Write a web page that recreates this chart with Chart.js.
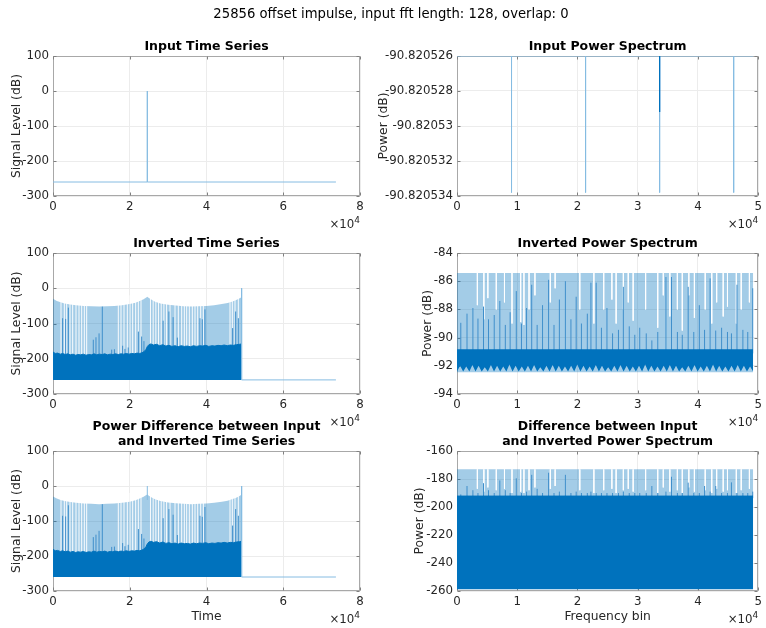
<!DOCTYPE html>
<html>
<head>
<meta charset="utf-8">
<script src="https://cdn.jsdelivr.net/npm/chart.js@4.4.1/dist/chart.umd.min.js"></script>
<style>
  body { margin: 0; background: #fff; }
  #fig { position: relative; width: 766px; height: 628px; overflow: hidden; background: #fff; }
  #fig canvas { position: absolute; left: 0; top: 0; }
  #suptitle { position: absolute; left: 0; top: 6px; width: 782px; line-height: 16px; text-align: center;
              font-family: "DejaVu Sans"; font-size: 13.2px; color: #000; z-index: 10; white-space: nowrap; }
</style>
</head>
<body>
<div id="fig">
  <canvas id="inTime" width="766" height="628"></canvas>
  <canvas id="inSpec" width="766" height="628"></canvas>
  <canvas id="invTime" width="766" height="628"></canvas>
  <canvas id="invSpec" width="766" height="628"></canvas>
  <canvas id="diffTime" width="766" height="628"></canvas>
  <canvas id="diffSpec" width="766" height="628"></canvas>
  <div id="suptitle">25856 offset impulse, input fft length: 128, overlap: 0</div>
</div>
<script>
// ---- axes ----
const timeTicks = [0, 20000, 40000, 60000, 80000];
const timeTickLabels = ['0', '2', '4', '6', '8'];
const freqTicks = [0, 10000, 20000, 30000, 40000, 50000];
const freqTickLabels = ['0', '1', '2', '3', '4', '5'];
const levelTicks = [-300, -200, -100, 0, 100];
const levelTickLabels = ['-300', '-200', '-100', '0', '100'];

// ---- input time series: one impulse on the -260 dB floor ----
const inTimeX = [0, 24576, 24576, 24576, 73728];
const inTimeY = [-260, -260, 0, -260, -260];

// ---- input power spectrum: flat level with four narrow notches ----
const inSpecTicks = [-90.820534, -90.820532, -90.82053, -90.820528, -90.820526];
const inSpecTickLabels = ['-90.820534', '-90.820532', '-90.82053', '-90.820528', '-90.820526'];
const inSpecLevel = -90.820526;
const inSpecEnd = 49152;
const inSpecNotchX = [9050, 21340, 33630, 45920];
const inSpecNotchY = [-90.8205338, -90.8205338, -90.8205338, -90.8205338];
const inSpecDarkX = [33630];
const inSpecDarkY = [-90.8205292];

// ---- inverted / difference time series ----
const tsEnd = 49152;
const tsTailEnd = 73728;
const envX = [0, 1000, 2000, 3000, 4500, 6000, 8000, 10000, 12000, 14000, 16000, 18000, 20000, 21500, 22600, 23600, 24300, 24576,
  24900, 25600, 26600, 28000, 30000, 32000, 34000, 36000, 38000, 40000, 42000, 44000, 45500, 46600, 47600, 48400, 49000, 49152];
const envY = [-30, -36, -40, -43, -46, -48, -50, -51, -52, -51, -50, -48, -45, -41, -36, -31, -26, -24,
  -27, -32, -38, -43, -47, -49, -51, -52, -51, -50, -48, -45, -42, -38, -34, -30, -26, -24];
const floorX = [0, 600, 1200, 1900, 2500, 3200, 3800, 4500, 5200, 5900, 6500, 7200, 7900, 8600, 9300, 10000, 10700, 11400, 12100, 12800,
  13500, 14200, 14900, 15600, 16300, 17000, 17700, 18400, 19100, 19800, 20500, 21200, 21900, 22600, 23200, 23700, 24200, 24600, 25000, 25500,
  26200, 27000, 27800, 28600, 29400, 30200, 31000, 31800, 32600, 33400, 34200, 35000, 35800, 36600, 37400, 38200, 39000, 39800, 40600, 41400,
  42200, 43000, 43800, 44600, 45400, 46200, 47000, 47800, 48600, 49152];
const floorY = [-181, -185, -184, -187, -185, -188, -186, -189, -187, -190, -188, -189, -187, -190, -188, -189, -186, -189, -187, -188,
  -186, -189, -187, -188, -186, -188, -186, -187, -185, -187, -185, -186, -184, -185, -183, -180, -174, -165, -160, -158,
  -161, -159, -163, -160, -164, -162, -165, -163, -166, -163, -165, -164, -166, -163, -165, -163, -164, -162, -165, -163,
  -164, -162, -163, -161, -163, -161, -162, -160, -159, -158];
const tsGapX = [2085, 2955, 3560, 4430, 5125, 5994, 6776, 7470, 8165, 8774, 17023, 17720, 18502, 19370, 20066, 20760, 21543, 22238, 22935,
  25400, 26100, 26800, 27500, 28200, 28900, 29600, 30500, 31793, 32662, 33530, 34225, 34833, 35528, 36310, 37005, 37700, 38480, 39176,
  46126, 46734, 47430, 48300];
const tsSpikeX = [2500, 3300, 4000, 10500, 11200, 12000, 12850, 15300, 16000, 18150, 18750, 19600, 22250, 23100, 23700,
  28700, 30200, 31300, 32400, 38300, 38900, 39600, 46800, 47600, 48300];
const tsSpikeY = [-85, -87, -55, -146, -139, -128, -52, -174, -173, -163, -172, -168, -123, -137, -150,
  -92, -66, -82, -140, -85, -88, -60, -113, -66, -85];
const diffPeakX = [24576];
const diffPeakY = [0];

// ---- inverted power spectrum ----
const ipsTicks = [-94, -92, -90, -88, -86, -84];
const ipsTickLabels = ['-94', '-92', '-90', '-88', '-86', '-84'];
const specEnd = 49152;
const ipsTop = -85.42;
const ipsFloor = -92.46;
const ipsBandTop = -90.82;
const ipsToothBase = -92.40;
const ipsTeethX = [512, 1536, 2560, 3584, 4608, 5632, 6656, 7680, 8704, 9728, 10752, 11776, 12800, 13824, 14848, 15872,
  16896, 17920, 18944, 19968, 20992, 22016, 23040, 24064, 25088, 26112, 27136, 28160, 29184, 30208, 31232, 32256,
  33280, 34304, 35328, 36352, 37376, 38400, 39424, 40448, 41472, 42496, 43520, 44544, 45568, 46592, 47616, 48640];
const ipsTeethY = [-92.0, -92.05, -91.95, -92.0, -92.1, -91.95, -92.0, -92.05, -91.9, -92.0, -92.05, -92.0, -91.95, -92.1, -92.0, -91.95,
  -92.0, -92.05, -92.0, -91.9, -92.0, -92.05, -91.95, -92.0, -92.1, -92.0, -91.95, -92.0, -92.05, -92.0, -91.9, -92.0,
  -92.05, -92.0, -91.95, -92.0, -92.1, -92.0, -91.95, -92.05, -92.0, -91.9, -92.0, -92.05, -92.0, -91.95, -92.0, -92.05];
const specSpikeX = [630, 1660, 2640, 3480, 4400, 5230, 6180, 7110, 8020, 8820, 9840, 10700, 11550, 12400, 13300, 14200, 15200, 16100,
  16990, 17990, 18910, 19780, 20650, 21630, 22230, 23100, 23970, 24890, 25820, 26800, 27610, 28590, 29510, 30330, 31410, 32340,
  33320, 34680, 35600, 36580, 37390, 38370, 39300, 40220, 41090, 42010, 42940, 43920, 44890, 45550, 46470, 47450, 48260, 49080];
const ipsSpikeY = [-88.95, -88.3, -87.9, -88.65, -87.8, -88.7, -88.4, -87.4, -89.1, -88.2, -86.7, -89.0, -87.9, -86.25, -89.1, -87.7, -85.9, -89.1,
  -87.3, -86.0, -88.7, -87.1, -89.0, -88.3, -86.1, -86.1, -89.3, -87.9, -89.7, -89.45, -86.4, -89.2, -89.8, -89.3, -89.7, -90.2,
  -89.6, -85.7, -85.7, -89.6, -89.8, -86.4, -89.6, -87.7, -89.45, -85.8, -89.5, -89.3, -89.6, -89.7, -86.25, -89.45, -89.6, -86.5];
const specGapX = [3380, 4460, 5120, 6522, 7881, 9131, 10570, 11110, 11957, 12935, 15490, 16290, 20381, 22719, 24350, 25708, 26414, 27610,
  28425, 29240, 31305, 33316, 34240, 35327, 36577, 37392, 38479, 39403, 41197, 42284, 43099, 44186, 44893, 46360, 47175, 48534];
const ipsGapY = [-87.7, -88.7, -87.2, -88.0, -87.5, -89.0, -88.9, -89.1, -88.0, -87.0, -87.5, -86.5, -88.0, -89.0, -88.0, -87.3, -89.0, -88.0,
  -87.5, -88.8, -88.0, -89.3, -87.0, -88.5, -88.0, -89.5, -87.0, -88.6, -88.0, -89.0, -87.5, -88.5, -87.8, -89.0, -88.0, -87.5];

// ---- difference power spectrum ----
const dpsTicks = [-260, -240, -220, -200, -180, -160];
const dpsTickLabels = ['-260', '-240', '-220', '-200', '-180', '-160'];
const dpsTop = -173.1;
const dpsLightFloor = -192;
const dpsBandTop = -191.7;
const dpsFloor = -258.8;
const dpsSpikeY = [-191, -185, -188, -190, -183, -188, -190, -181, -188, -190, -179.5, -190, -189, -177, -187, -190, -175.5, -190,
  -189, -177, -190, -189, -190, -190, -189, -190, -190, -190, -190, -190, -189, -190, -190, -190, -190, -185,
  -190, -189, -178.4, -190, -190, -182.6, -190, -190, -185, -189, -185, -190, -190, -182.4, -190, -190, -190, -189];
const dpsGapY = [-187, -189, -186, -188, -187, -190, -189, -190, -188, -186, -187, -185, -188, -190, -188, -187, -190, -188,
  -187, -189, -188, -190, -186, -189, -188, -190, -186, -189, -188, -190, -187, -189, -188, -190, -188, -187];

// ---- colours ----
const blue = '#0072bd';
const lightFill = 'rgba(0,114,189,0.36)';
const thinLine = '#86bce2';
const spikeBlue = '#3f8fcb';
const gapWhite = 'rgba(255,255,255,0.92)';
const none = 'rgba(0,0,0,0)';
const textColor = '#262626';
const FONT = 'DejaVu Sans';

function pts(xs, ys) {
  return xs.map((x, i) => ({x: x, y: ys[i]}));
}
// vertical strokes from y0 to ys[i] at each xs[i], broken apart with nulls
function strokes(xs, y0, ys) {
  const out = [];
  xs.forEach((x, i) => out.push({x: x, y: y0}, {x: x, y: ys[i]}, {x: x, y: null}));
  return out;
}
function area(data, color, base, order, edge) {
  return {data: data, backgroundColor: color, borderColor: edge || none, borderWidth: edge ? 1 : 0.01,
    fill: {value: base}, pointRadius: 0, tension: 0, order: order};
}
function line(data, color, order) {
  return {data: data, borderColor: color, borderWidth: 1, fill: false, pointRadius: 0, tension: 0,
    spanGaps: false, order: order};
}

// axes box, inward ticks, titles and the x10^4 multiplier
const decor = {
  id: 'decor',
  beforeDatasetsDraw(chart, args, o) {
    const {ctx, chartArea: a, scales: {x, y}} = chart;
    const l = Math.round(a.left) + 0.5, r = Math.round(a.right) - 0.5;
    const t = Math.round(a.top) + 0.5, b = Math.round(a.bottom) - 0.5;
    ctx.save();
    ctx.lineWidth = 1;
    ctx.strokeStyle = '#a8a8a8';
    ctx.strokeRect(l, t, r - l, b - t);
    ctx.strokeStyle = '#808080';
    ctx.beginPath();
    x.ticks.forEach(tk => {
      const px = Math.round(x.getPixelForValue(tk.value)) + 0.5;
      ctx.moveTo(px, b); ctx.lineTo(px, b - 3);
      ctx.moveTo(px, t); ctx.lineTo(px, t + 3);
    });
    y.ticks.forEach(tk => {
      const py = Math.round(y.getPixelForValue(tk.value)) + 0.5;
      ctx.moveTo(l, py); ctx.lineTo(l + 3, py);
      ctx.moveTo(r, py); ctx.lineTo(r - 3, py);
    });
    ctx.stroke();
    ctx.restore();
  },
  afterDraw(chart, args, o) {
    const {ctx, chartArea: a} = chart;
    const cx = (a.left + a.right) / 2;
    ctx.save();
    ctx.textAlign = 'center';
    ctx.textBaseline = 'middle';
    ctx.fillStyle = '#000';
    ctx.font = 'bold 12.5px "' + FONT + '"';
    o.title.forEach((s, i) => ctx.fillText(s, cx, a.top - 9.5 - (o.title.length - 1 - i) * 15));
    ctx.fillStyle = textColor;
    ctx.font = '12.3px "' + FONT + '"';
    if (o.xLabel) ctx.fillText(o.xLabel, cx, a.bottom + 25.5);
    ctx.save();
    ctx.translate(o.yLabelX, (a.top + a.bottom) / 2);
    ctx.rotate(-Math.PI / 2);
    ctx.fillText(o.yLabel, 0, 0);
    ctx.restore();
    ctx.textAlign = 'right';
    ctx.font = '9px "' + FONT + '"';
    const w4 = ctx.measureText('4').width;
    ctx.fillText('4', a.right, a.bottom + 24.5);
    ctx.font = '11.8px "' + FONT + '"';
    ctx.fillText('\u00d710', a.right - w4, a.bottom + 28.5);
    ctx.restore();
  }
};

function axis(ticks, labels, size, dim) {
  return {
    type: 'linear',
    min: ticks[0],
    max: ticks[ticks.length - 1],
    grid: {color: '#ececec', drawTicks: false},
    border: {display: false},
    ticks: {autoSkip: false, maxRotation: 0, padding: 4, color: textColor,
      font: {family: FONT, size: 11.8}, callback: (v, i) => labels[i]},
    afterBuildTicks: s => { s.ticks = ticks.map(v => ({value: v})); },
    afterFit: s => { s[dim] = size; }
  };
}

// y axis box spans from the canvas edge so wide tick labels are not clipped
function panel(id, box, xAx, yAx, datasets, deco) {
  const [L, T, R, B] = box;
  new Chart(document.getElementById(id), {
    type: 'line',
    data: {datasets: datasets},
    options: {
      responsive: false,
      animation: false,
      events: [],
      layout: {padding: {left: 0, top: T, right: 766 - R, bottom: 628 - B - 20}},
      plugins: {legend: {display: false}, tooltip: {enabled: false}, decor: deco},
      scales: {x: axis(xAx[0], xAx[1], 20, 'height'), y: axis(yAx[0], yAx[1], L, 'width')}
    },
    plugins: [decor]
  });
}

const timeAxis = [timeTicks, timeTickLabels];
const freqAxis = [freqTicks, freqTickLabels];
const levelAxis = [levelTicks, levelTickLabels];

// Input Time Series
panel('inTime', [53, 56, 360, 196], timeAxis, levelAxis,
  [line(pts(inTimeX, inTimeY), thinLine, 1)],
  {title: ['Input Time Series'], yLabel: 'Signal Level (dB)', yLabelX: 17});

// Input Power Spectrum
panel('inSpec', [457, 56, 763, 196], freqAxis, [inSpecTicks, inSpecTickLabels],
  [line([{x: 0, y: inSpecLevel}, {x: inSpecEnd, y: inSpecLevel}], thinLine, 3),
   line(strokes(inSpecNotchX, inSpecLevel, inSpecNotchY), thinLine, 2),
   line(strokes(inSpecDarkX, inSpecLevel, inSpecDarkY), blue, 1)],
  {title: ['Input Power Spectrum'], yLabel: 'Power (dB)', yLabelX: 384});

// shared layers of the two time-series panels below
function timeLayers(extra) {
  const sets = [
    area(pts(envX, envY), lightFill, -260, 10),
    line(strokes(tsGapX, -255, tsGapX.map(() => -20)), gapWhite, 9),
    line(strokes(tsSpikeX, -200, tsSpikeY), spikeBlue, 8),
    area(pts(floorX, floorY), blue, -260, 7, blue),
    line([{x: tsEnd, y: 0}, {x: tsEnd, y: -260}, {x: tsTailEnd, y: -260}], thinLine, 6)
  ];
  return sets.concat(extra);
}

// Inverted Time Series
panel('invTime', [53, 253, 360, 394], timeAxis, levelAxis, timeLayers([]),
  {title: ['Inverted Time Series'], yLabel: 'Signal Level (dB)', yLabelX: 17});

// Inverted Power Spectrum
const zig = [{x: 0, y: ipsToothBase}];
const toothHalf = (ipsTeethX[1] - ipsTeethX[0]) / 2;
ipsTeethX.forEach((t, i) => zig.push({x: t, y: ipsTeethY[i]}, {x: Math.min(t + toothHalf, specEnd), y: ipsToothBase}));
panel('invSpec', [457, 253, 763, 394], freqAxis, [ipsTicks, ipsTickLabels],
  [area([{x: 0, y: ipsTop}, {x: specEnd, y: ipsTop}], lightFill, ipsFloor, 10),
   line(strokes(specGapX, ipsTop, ipsGapY), gapWhite, 9),
   line(strokes(specSpikeX, ipsBandTop - 0.3, ipsSpikeY), spikeBlue, 8),
   area(zig, blue, ipsBandTop, 7)],
  {title: ['Inverted Power Spectrum'], yLabel: 'Power (dB)', yLabelX: 428});

// Power Difference between Input and Inverted Time Series
panel('diffTime', [53, 451, 360, 591], timeAxis, levelAxis,
  timeLayers([line(strokes(diffPeakX, -40, diffPeakY), thinLine, 5)]),
  {title: ['Power Difference between Input', 'and Inverted Time Series'], xLabel: 'Time',
   yLabel: 'Signal Level (dB)', yLabelX: 17});

// Difference between Input and Inverted Power Spectrum
panel('diffSpec', [457, 451, 763, 591], freqAxis, [dpsTicks, dpsTickLabels],
  [area([{x: 0, y: dpsTop}, {x: specEnd, y: dpsTop}], lightFill, dpsLightFloor, 10),
   line(strokes(specGapX, dpsTop, dpsGapY), gapWhite, 9),
   line(strokes(specSpikeX, dpsBandTop - 2, dpsSpikeY), spikeBlue, 8),
   area([{x: 0, y: dpsBandTop}, {x: specEnd, y: dpsBandTop}], blue, dpsFloor, 7)],
  {title: ['Difference between Input', 'and Inverted Power Spectrum'], xLabel: 'Frequency bin',
   yLabel: 'Power (dB)', yLabelX: 420});
</script>
</body>
</html>
